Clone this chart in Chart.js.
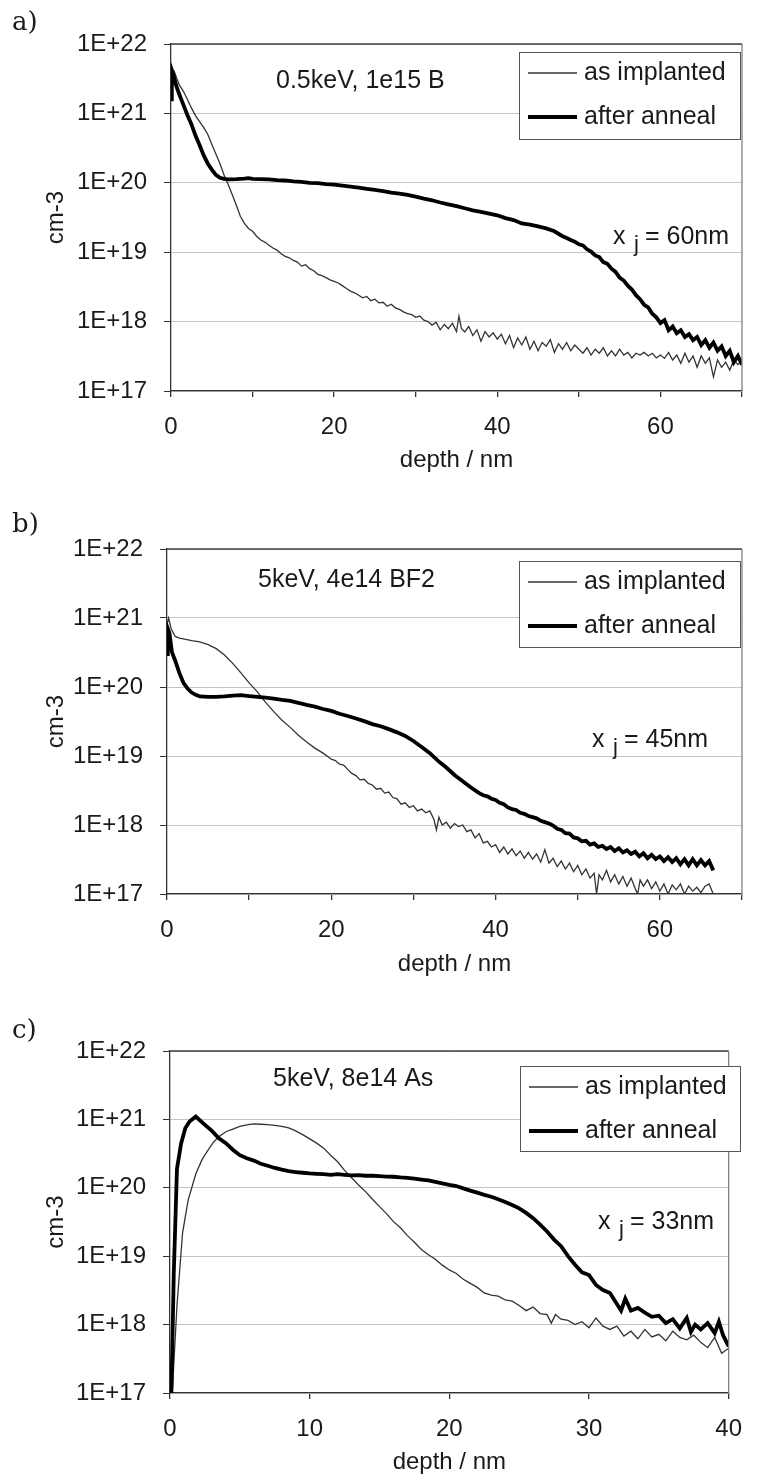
<!DOCTYPE html>
<html>
<head>
<meta charset="utf-8">
<script src="https://cdn.jsdelivr.net/npm/chart.js@4.4.0/dist/chart.umd.min.js"></script>
<style>
  body { margin: 0; background: #fff; }
  #wrap { position: relative; width: 758px; height: 1477px; }
  canvas { position: absolute; left: 0; }
</style>
</head>
<body>
<div id="wrap">
  <canvas id="chart-a" width="758" height="500" style="top:0"></canvas>
  <canvas id="chart-b" width="758" height="500" style="top:500px"></canvas>
  <canvas id="chart-c" width="758" height="477" style="top:1000px"></canvas>
</div>
<script>
// Tick values and labels
const yTickValues = [1e17, 1e18, 1e19, 1e20, 1e21, 1e22];
const yTickLabels = ['1E+17', '1E+18', '1E+19', '1E+20', '1E+21', '1E+22'];
const xLabelsAB = [0, 20, 40, 60];
const xLabelsC = [0, 10, 20, 30, 40];

const seriesNames = ['as implanted', 'after anneal'];
const notes = ['0.5keV, 1e15 B', '5keV, 4e14 BF2', '5keV, 8e14 As'];
const junctions = ['60nm', '45nm', '33nm'];

// a) 0.5keV B  [depth nm, cm-3]
const implA = [[0,1.8e21],[0.2,3.5e21],[0.4,4.0e21],[0.7,3.2e21],[1,2.6e21],[1.5,2.1e21],[2,1.6e21],[2.5,1.2e21],[3,9.3e20],[3.5,7.6e20],[4,6.3e20],[4.5,5.0e20],[5,3.6e20],[5.5,2.6e20],[6,1.9e20],[6.5,1.3e20],[7,9.5e19],[7.5,6.8e19],[8,4.8e19],[8.5,3.3e19],[9,2.6e19],[9.5,2.2e19],[10,2.0e19],[10.5,1.7e19],[11,1.5e19],[11.5,1.4e19],[12,1.26e19],[12.5,1.15e19],[13,1.07e19],[13.5,9.5e18],[14,8.7e18],[14.5,8.3e18],[15,7.6e18],[15.5,7.2e18],[16,6.3e18],[16.5,6.6e18],[17,5.8e18],[17.5,5.4e18],[18,4.8e18],[18.5,4.6e18],[19,4.3e18],[19.5,4.0e18],[20,3.8e18],[20.5,3.6e18],[21,3.3e18],[21.5,3.0e18],[22,2.75e18],[22.5,2.6e18],[23,2.4e18],[23.5,2.2e18],[24,2.3e18],[24.5,2.0e18],[25,2.1e18],[25.5,1.86e18],[26,1.9e18],[26.5,1.66e18],[27,1.78e18],[27.5,1.58e18],[28,1.5e18],[28.5,1.38e18],[29,1.3e18],[29.5,1.26e18],[30,1.15e18],[30.5,1.2e18],[31,1.05e18],[31.5,1.0e18],[32,8.9e17],[32.5,9.8e17],[33,7.6e17],[33.5,9.1e17],[34,7.9e17],[34.5,9.5e17],[35,7.2e17],[35.3,1.2e18],[35.6,8.0e17],[36,7.1e17],[36.5,8.5e17],[37,6.3e17],[37.5,7.6e17],[38,5.2e17],[38.5,7.2e17],[39,6.0e17],[39.5,6.9e17],[40,5.6e17],[40.5,6.6e17],[41,4.8e17],[41.5,6.3e17],[42,4.2e17],[42.5,5.8e17],[43,4.6e17],[43.5,6.0e17],[44,4.0e17],[44.5,5.2e17],[45,3.8e17],[45.5,5.0e17],[46,4.4e17],[46.5,5.5e17],[47,3.6e17],[47.5,4.8e17],[48,4.0e17],[48.5,5.0e17],[49,3.8e17],[49.5,4.6e17],[50,4.0e17],[50.5,3.5e17],[51,4.2e17],[51.5,3.3e17],[52,4.0e17],[52.5,3.5e17],[53,4.2e17],[53.5,3.2e17],[54,3.8e17],[54.5,3.2e17],[55,4.0e17],[55.5,3.3e17],[56,3.6e17],[56.5,3.0e17],[57,3.5e17],[57.5,3.3e17],[58,3.6e17],[58.5,3.2e17],[59,3.5e17],[59.5,3.0e17],[60,3.3e17],[60.5,2.95e17],[61,3.6e17],[61.5,2.8e17],[62,3.3e17],[62.5,2.5e17],[63,3.5e17],[63.5,2.6e17],[64,3.2e17],[64.5,2.2e17],[65,3.2e17],[65.5,2.5e17],[66,3.0e17],[66.5,1.6e17],[67,2.8e17],[67.5,2.2e17],[68,2.6e17],[68.5,2.0e17],[69,2.8e17],[69.5,2.4e17],[70,2.8e17]];
const annealA = [[0,1.6e21],[0.1,4.2e21],[0.3,3.6e21],[0.6,2.6e21],[1,1.9e21],[1.5,1.35e21],[2,9.5e20],[2.5,7.0e20],[3,4.8e20],[3.5,3.5e20],[4,2.5e20],[4.5,1.9e20],[5,1.55e20],[5.5,1.3e20],[6,1.18e20],[6.5,1.14e20],[7,1.12e20],[8,1.13e20],[9,1.15e20],[9.5,1.17e20],[10,1.14e20],[11,1.13e20],[12,1.12e20],[13,1.09e20],[14,1.08e20],[15,1.05e20],[16,1.03e20],[17,1.0e20],[18,9.9e19],[19,9.6e19],[20,9.4e19],[21,9.1e19],[22,8.8e19],[23,8.5e19],[24,8.2e19],[25,7.9e19],[26,7.6e19],[27,7.2e19],[28,7.0e19],[29,6.7e19],[30,6.3e19],[31,5.9e19],[32,5.6e19],[33,5.2e19],[34,4.9e19],[35,4.6e19],[36,4.3e19],[37,4.0e19],[38,3.8e19],[39,3.6e19],[40,3.4e19],[41,3.1e19],[42,2.9e19],[43,2.6e19],[44,2.5e19],[45,2.35e19],[46,2.2e19],[47,2.0e19],[48,1.7e19],[48.5,1.6e19],[49,1.5e19],[49.5,1.42e19],[50,1.3e19],[50.5,1.25e19],[51,1.1e19],[51.5,1.02e19],[52,9.0e18],[52.5,8.5e18],[53,7.2e18],[53.5,6.8e18],[54,5.8e18],[54.5,5.2e18],[55,4.3e18],[55.5,3.9e18],[56,3.3e18],[56.5,2.9e18],[57,2.4e18],[57.5,2.1e18],[58,1.75e18],[58.5,1.6e18],[59,1.3e18],[59.5,1.15e18],[60,9.5e17],[60.5,1.05e18],[61,7.5e17],[61.5,8.5e17],[62,6.8e17],[62.5,7.5e17],[63,6.0e17],[63.5,6.6e17],[64,5.4e17],[64.5,6.0e17],[65,4.6e17],[65.5,5.4e17],[66,4.2e17],[66.5,5.0e17],[67,3.8e17],[67.5,4.4e17],[68,3.2e17],[68.5,3.8e17],[69,2.6e17],[69.5,3.2e17],[70,2.4e17]];

// b) 5keV BF2
const implB = [[0,8.0e20],[0.2,1.0e21],[0.5,7.0e20],[1,5.4e20],[1.5,5.1e20],[2,5.0e20],[3,4.7e20],[4,4.5e20],[5,4.1e20],[6,3.6e20],[7,2.9e20],[8,2.2e20],[9,1.6e20],[10,1.15e20],[11,8.5e19],[12,6.0e19],[13,4.4e19],[14,3.3e19],[15,2.6e19],[16,2.0e19],[17,1.6e19],[18,1.3e19],[19,1.1e19],[20,9.0e18],[20.5,8.6e18],[21,7.6e18],[21.5,7.4e18],[22,6.4e18],[22.5,5.6e18],[23,5.2e18],[23.5,4.5e18],[24,4.6e18],[24.5,4.0e18],[25,3.8e18],[25.5,3.3e18],[26,3.4e18],[26.5,2.9e18],[27,3.0e18],[27.5,2.5e18],[28,2.4e18],[28.5,2.0e18],[29,2.1e18],[29.5,1.8e18],[30,1.9e18],[30.5,1.6e18],[31,1.7e18],[31.5,1.5e18],[32,1.6e18],[32.5,1.2e18],[32.8,8.5e17],[33.1,1.3e18],[33.5,1.0e18],[34,1.1e18],[34.5,9.0e17],[35,1.05e18],[35.5,9.5e17],[36,1.0e18],[36.5,8.0e17],[37,8.5e17],[37.5,6.5e17],[38,7.5e17],[38.5,5.5e17],[39,5.8e17],[39.5,4.8e17],[40,5.2e17],[40.5,4.0e17],[41,4.8e17],[41.5,3.8e17],[42,4.5e17],[42.5,3.6e17],[43,4.2e17],[43.5,3.3e17],[44,4.0e17],[44.5,3.2e17],[45,3.8e17],[45.5,2.9e17],[46,4.4e17],[46.5,2.8e17],[47,3.3e17],[47.5,2.5e17],[48,3.0e17],[48.5,2.3e17],[49,2.8e17],[49.5,2.1e17],[50,2.6e17],[50.5,1.9e17],[51,2.3e17],[51.5,1.7e17],[52,2.0e17],[52.3,1.0e17],[52.6,1.9e17],[53,1.6e17],[53.5,2.2e17],[54,1.5e17],[54.5,1.9e17],[55,1.4e17],[55.5,1.8e17],[56,1.3e17],[56.5,1.7e17],[57,1.2e17],[57.3,1.0e17],[57.6,1.6e17],[58,1.3e17],[58.5,1.6e17],[59,1.2e17],[59.5,1.5e17],[60,1.1e17],[60.5,1.4e17],[61,1.0e17],[61.5,1.35e17],[62,1.15e17],[62.5,1.4e17],[63,1.0e17],[63.5,1.3e17],[64,1.1e17],[64.5,1.25e17],[65,1.05e17],[65.5,1.3e17],[66,1.4e17],[66.5,1.0e17]];
const annealB = [[0,3.0e20],[0.1,7.0e20],[0.3,6.0e20],[0.6,3.2e20],[1,2.4e20],[1.5,1.6e20],[2,1.15e20],[2.5,9.5e19],[3,8.3e19],[3.5,7.7e19],[4,7.3e19],[5,7.2e19],[6,7.2e19],[7,7.3e19],[8,7.5e19],[9,7.6e19],[10,7.4e19],[11,7.2e19],[12,7.0e19],[13,6.8e19],[14,6.5e19],[15,6.3e19],[16,5.9e19],[17,5.5e19],[18,5.2e19],[19,4.8e19],[20,4.5e19],[21,4.1e19],[22,3.8e19],[23,3.5e19],[24,3.2e19],[25,2.9e19],[26,2.7e19],[27,2.45e19],[28,2.2e19],[29,1.95e19],[30,1.65e19],[31,1.35e19],[32,1.1e19],[33,8.5e18],[34,6.8e18],[35,5.3e18],[36,4.3e18],[37,3.5e18],[38,2.9e18],[38.5,2.7e18],[39,2.6e18],[39.5,2.4e18],[40,2.3e18],[40.5,2.1e18],[41,2.0e18],[41.5,1.8e18],[42,1.7e18],[42.5,1.65e18],[43,1.5e18],[43.5,1.45e18],[44,1.35e18],[44.5,1.3e18],[45,1.25e18],[45.5,1.15e18],[46,1.1e18],[46.5,1.05e18],[47,9.8e17],[47.5,8.8e17],[48,8.5e17],[48.5,7.6e17],[49,7.5e17],[49.5,6.6e17],[50,6.4e17],[50.5,5.8e17],[51,5.9e17],[51.5,5.2e17],[52,5.4e17],[52.5,4.8e17],[53,5.0e17],[53.5,4.5e17],[54,4.8e17],[54.5,4.2e17],[55,4.6e17],[55.5,4.0e17],[56,4.3e17],[56.5,3.8e17],[57,4.1e17],[57.5,3.5e17],[58,3.9e17],[58.5,3.3e17],[59,3.7e17],[59.5,3.2e17],[60,3.5e17],[60.5,3.0e17],[61,3.4e17],[61.5,2.9e17],[62,3.3e17],[62.5,2.7e17],[63,3.2e17],[63.5,2.6e17],[64,3.2e17],[64.5,2.6e17],[65,3.1e17],[65.5,2.6e17],[66,3.0e17],[66.5,2.2e17]];

// c) 5keV As
const implC = [[0.16,1.0e17],[0.5,1.9e18],[0.9,2.2e19],[1.3,6.6e19],[1.85,1.6e20],[2.3,2.6e20],[2.7,3.5e20],[3.1,4.6e20],[3.5,5.6e20],[4,6.6e20],[4.5,7.2e20],[5,7.9e20],[5.5,8.3e20],[6,8.6e20],[6.5,8.5e20],[7,8.4e20],[7.5,8.2e20],[8,7.9e20],[8.5,7.5e20],[9,6.8e20],[9.5,6.0e20],[10,5.2e20],[10.5,4.5e20],[11,3.8e20],[11.5,3.0e20],[12,2.4e20],[12.5,1.8e20],[13,1.4e20],[13.5,1.1e20],[14,8.8e19],[14.5,6.8e19],[15,5.3e19],[15.5,4.2e19],[16,3.2e19],[16.5,2.6e19],[17,2.0e19],[17.5,1.6e19],[18,1.25e19],[18.5,1.05e19],[19,9.0e18],[19.5,7.4e18],[20,6.3e18],[20.5,5.6e18],[21,4.6e18],[21.5,4.0e18],[22,3.5e18],[22.5,2.9e18],[23,2.7e18],[23.5,2.6e18],[24,2.3e18],[24.5,2.2e18],[25,1.9e18],[25.5,1.6e18],[26,1.8e18],[26.5,1.45e18],[27,1.4e18],[27.3,1.05e18],[27.6,1.4e18],[28,1.2e18],[28.5,1.15e18],[29,1.0e18],[29.5,1.1e18],[30,9.0e17],[30.5,1.25e18],[31,9.5e17],[31.5,8.5e17],[32,9.5e17],[32.5,6.8e17],[33,8.0e17],[33.5,6.2e17],[34,8.5e17],[34.5,6.6e17],[35,7.2e17],[35.5,5.8e17],[36,8.0e17],[36.5,6.5e17],[37,6.0e17],[37.5,7.0e17],[38,5.5e17],[38.5,4.6e17],[39,6.5e17],[39.5,3.8e17],[40,4.5e17]];
const annealC = [[0.1,1.0e17],[0.27,5.6e18],[0.5,1.9e20],[0.8,4.5e20],[1.1,7.5e20],[1.4,9.3e20],[1.85,1.1e21],[2.4,8.7e20],[3,6.8e20],[3.5,5.3e20],[4,4.5e20],[4.5,3.6e20],[5,3.0e20],[5.5,2.7e20],[6,2.5e20],[6.5,2.25e20],[7,2.1e20],[7.5,1.95e20],[8,1.85e20],[8.5,1.75e20],[9,1.7e20],[9.5,1.66e20],[10,1.62e20],[10.5,1.6e20],[11,1.58e20],[11.5,1.55e20],[12,1.58e20],[12.5,1.55e20],[13,1.52e20],[13.5,1.53e20],[14,1.5e20],[14.5,1.5e20],[15,1.48e20],[15.5,1.46e20],[16,1.45e20],[16.5,1.42e20],[17,1.4e20],[17.5,1.36e20],[18,1.32e20],[18.5,1.28e20],[19,1.22e20],[19.5,1.16e20],[20,1.1e20],[20.5,1.06e20],[21,9.8e19],[21.5,9.1e19],[22,8.5e19],[22.5,7.9e19],[23,7.4e19],[23.5,6.8e19],[24,6.2e19],[24.5,5.6e19],[25,5.0e19],[25.5,4.3e19],[26,3.6e19],[26.5,2.9e19],[27,2.3e19],[27.5,1.75e19],[28,1.4e19],[28.5,1.0e19],[29,7.5e18],[29.5,5.8e18],[30,5.3e18],[30.5,3.8e18],[31,3.2e18],[31.5,2.9e18],[32,2.0e18],[32.3,1.6e18],[32.6,2.4e18],[33,1.6e18],[33.5,1.75e18],[34,1.5e18],[34.5,1.3e18],[35,1.35e18],[35.5,1.05e18],[36,1.2e18],[36.5,8.8e17],[37,1.25e18],[37.3,7.8e17],[37.6,1.0e18],[38,8.5e17],[38.5,1.05e18],[39,7.5e17],[39.3,1.1e18],[39.6,7.0e17],[40,4.8e17]];

Chart.defaults.font.family = "'Liberation Sans', Arial, sans-serif";
Chart.defaults.font.size = 24;
Chart.defaults.color = '#1a1a1a';

const TEXT = '#1a1a1a';
const SANS = "'Liberation Sans', Arial, sans-serif";

// рамка, подписи панелей, легенда
const panelDecor = {
    id: 'panelDecor',
    afterDraw(chart, args, o) {
        const { ctx, chartArea: a } = chart;
        ctx.save();

        // верх и правая сторона рамки
        ctx.lineWidth = 1.3;
        ctx.strokeStyle = '#404040';
        ctx.beginPath(); ctx.moveTo(a.left, a.top); ctx.lineTo(a.right, a.top); ctx.stroke();
        ctx.strokeStyle = '#808080';
        ctx.beginPath(); ctx.moveTo(a.right, a.top); ctx.lineTo(a.right, a.bottom); ctx.stroke();

        ctx.fillStyle = TEXT;
        ctx.textBaseline = 'middle';
        ctx.textAlign = 'left';

        ctx.font = "26px 'DejaVu Serif', serif";
        ctx.fillText(o.letter, 12, o.letterY);

        ctx.font = '25px ' + SANS;
        ctx.fillText(o.note, o.noteX, o.noteY);

        // x_j
        ctx.fillText('x', o.xjX, o.xjY);
        ctx.font = '22px ' + SANS;
        ctx.fillText('j', o.xjX + 21, o.xjY + 8);
        ctx.font = '25px ' + SANS;
        ctx.fillText('= ' + o.xj, o.xjX + 32, o.xjY);

        // легенда
        const L = o.legend;
        ctx.fillStyle = '#fff';
        ctx.fillRect(L.x, L.y, L.w, L.h);
        ctx.strokeStyle = '#555';
        ctx.lineWidth = 1;
        ctx.strokeRect(L.x + 0.5, L.y + 0.5, L.w, L.h);
        chart.data.datasets.forEach((ds, i) => {
            const y = L.y + 21 + i * 44;
            ctx.strokeStyle = ds.borderColor;
            ctx.lineWidth = ds.borderWidth;
            ctx.beginPath(); ctx.moveTo(L.x + 9, y); ctx.lineTo(L.x + 58, y); ctx.stroke();
            ctx.fillStyle = TEXT;
            ctx.fillText(ds.label, L.x + 65, y);
        });
        ctx.restore();
    }
};

function toPoints(arr) {
    return arr.map(([x, y]) => ({ x, y }));
}

function makePanel(p) {
    const ctx = document.getElementById(p.id).getContext('2d');
    return new Chart(ctx, {
        type: 'line',
        data: {
            datasets: [{
                label: seriesNames[0],
                data: toPoints(p.impl),
                borderColor: '#333333',
                borderWidth: 1.3,
                pointRadius: 0,
                tension: 0,
                order: 1
            }, {
                label: seriesNames[1],
                data: toPoints(p.anneal),
                borderColor: '#000000',
                borderWidth: 3.8,
                pointRadius: 0,
                tension: 0,
                order: 0
            }]
        },
        options: {
            responsive: false,
            animation: false,
            devicePixelRatio: 1,
            layout: { padding: { left: 0, top: p.padTop, right: p.padRight, bottom: 0 } },
            plugins: {
                legend: { display: false },
                tooltip: { enabled: false },
                panelDecor: p.decor
            },
            scales: {
                x: {
                    type: 'linear',
                    min: 0,
                    max: p.xMax,
                    afterFit: (scale) => { scale.height = p.xHeight; },
                    ticks: {
                        stepSize: 10,
                        autoSkip: false,
                        maxRotation: 0,
                        padding: 16,
                        color: TEXT,
                        callback: (v) => p.xLabels.includes(v) ? String(v) : ''
                    },
                    grid: { drawOnChartArea: false, tickLength: 6, tickColor: '#333', lineWidth: 1.3 },
                    border: { color: '#333', width: 1.3 },
                    title: {
                        display: true,
                        text: 'depth / nm',
                        color: TEXT,
                        font: { size: 24 },
                        padding: { top: 0, bottom: p.titleBottom }
                    }
                },
                y: {
                    type: 'logarithmic',
                    min: yTickValues[0],
                    max: yTickValues[yTickValues.length - 1],
                    afterFit: (scale) => { scale.width = p.yWidth; },
                    afterBuildTicks: (scale) => {
                        scale.ticks = yTickValues.map(value => ({ value }));
                    },
                    ticks: {
                        padding: 17,
                        color: TEXT,
                        callback: (v, i) => yTickLabels[i]
                    },
                    grid: { color: '#c4c4c4', lineWidth: 1, tickLength: 7, tickColor: '#333' },
                    border: { color: '#333', width: 1.3 },
                    title: {
                        display: true,
                        text: 'cm-3',
                        color: TEXT,
                        font: { size: 24 },
                        padding: { top: 41.6, bottom: 0 }
                    }
                }
            }
        },
        plugins: [panelDecor]
    });
}

makePanel({
    id: 'chart-a', impl: implA, anneal: annealA, xMax: 70, xLabels: xLabelsAB,
    yWidth: 171, padTop: 44, padRight: 12, xHeight: 109, titleBottom: 25.6,
    decor: { letter: 'a)', letterY: 23, note: notes[0], noteX: 276, noteY: 81,
             xj: junctions[0], xjX: 613, xjY: 237, legend: { x: 519, y: 52, w: 221, h: 87 } }
});
makePanel({
    id: 'chart-b', impl: implB, anneal: annealB, xMax: 70, xLabels: xLabelsAB,
    yWidth: 167, padTop: 49, padRight: 15, xHeight: 106, titleBottom: 21.6,
    decor: { letter: 'b)', letterY: 25, note: notes[1], noteX: 258, noteY: 80,
             xj: junctions[1], xjX: 592, xjY: 240, legend: { x: 519, y: 61, w: 221, h: 86 } }
});
makePanel({
    id: 'chart-c', impl: implC, anneal: annealC, xMax: 40, xLabels: xLabelsC,
    yWidth: 170, padTop: 51, padRight: 16, xHeight: 84, titleBottom: 0,
    decor: { letter: 'c)', letterY: 31, note: notes[2], noteX: 273, noteY: 79,
             xj: junctions[2], xjX: 598, xjY: 222, legend: { x: 520, y: 66, w: 220, h: 85 } }
});
</script>
</body>
</html>
